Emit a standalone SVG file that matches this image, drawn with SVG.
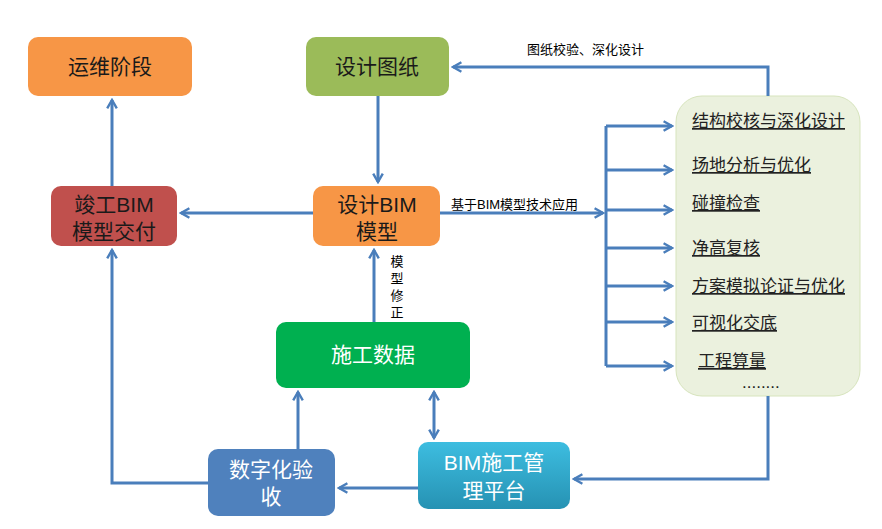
<svg xmlns="http://www.w3.org/2000/svg" width="882" height="529" viewBox="0 0 882 529">
<defs>
<style>
.c{fill:none;stroke:#4A7EBB;stroke-width:3}
.t{font-family:"Liberation Sans","Noto Sans CJK SC",sans-serif}
.n{font-size:21px;text-anchor:middle}
.l{font-size:17px;fill:#222;text-decoration:underline}
.s{font-size:13px;fill:#000}
</style>
<marker id="a" viewBox="0 0 10 10" refX="8" refY="5" markerWidth="4" markerHeight="4" orient="auto-start-reverse" markerUnits="strokeWidth"><path d="M1,1 L8,5 L1,9" fill="none" stroke="#4A7EBB" stroke-width="2"/></marker>
<linearGradient id="g" x1="0" y1="0" x2="0" y2="1"><stop offset="0" stop-color="#3DBDE0"/><stop offset="1" stop-color="#2692B3"/></linearGradient>
</defs>
<rect width="882" height="529" fill="#fff"/>
<g id="panel"><rect x="676" y="96" width="184" height="300" rx="26" fill="#EBF1DE" stroke="#D7E4BD"/>
<g class="t l">
<text x="692" y="127">结构校核与深化设计</text>
<text x="692" y="171">场地分析与优化</text>
<text x="692" y="209">碰撞检查</text>
<text x="692" y="254">净高复核</text>
<text x="692" y="292">方案模拟论证与优化</text>
<text x="692" y="329">可视化交底</text>
<text x="698" y="367">工程算量</text>
</g>
<text class="t" x="742" y="388" font-size="17" fill="#222">........</text></g>
<g id="connectors">
<path class="c" d="M378,96 V182" marker-end="url(#a)"/>
<path class="c" d="M313,213 H181" marker-end="url(#a)"/>
<path class="c" d="M112,186 V100" marker-end="url(#a)"/>
<path class="c" d="M374,322 V250" marker-end="url(#a)"/>
<path class="c" d="M440,213 H603" marker-end="url(#a)"/>
<path class="c" d="M606,126 V366"/>
<path class="c" d="M606,126 H672" marker-end="url(#a)"/>
<path class="c" d="M606,170 H672" marker-end="url(#a)"/>
<path class="c" d="M606,210 H672" marker-end="url(#a)"/>
<path class="c" d="M606,248 H672" marker-end="url(#a)"/>
<path class="c" d="M606,286 H672" marker-end="url(#a)"/>
<path class="c" d="M606,322 H672" marker-end="url(#a)"/>
<path class="c" d="M606,366 H672" marker-end="url(#a)"/>
<path class="c" d="M768,96 V67 H453" marker-end="url(#a)"/>
<path class="c" d="M768,396 V479 H574" marker-end="url(#a)"/>
<path class="c" d="M434,392 V438" marker-start="url(#a)" marker-end="url(#a)"/>
<path class="c" d="M418,488 H339" marker-end="url(#a)"/>
<path class="c" d="M298,449 V392" marker-end="url(#a)"/>
<path class="c" d="M208,483 H112 V250" marker-end="url(#a)"/>
<text class="t s" x="527" y="54">图纸校验、深化设计</text>
<text class="t s" x="451" y="209">基于BIM模型技术应用</text>
<g class="t s" text-anchor="middle"><text x="397" y="266">模</text><text x="397" y="283">型</text><text x="397" y="300">修</text><text x="397" y="317">正</text></g>
</g>
<g id="yunwei"><rect x="28" y="37" width="164" height="59" rx="10" fill="#F79646"/><text class="t n" x="110" y="74" fill="#1a1a1a">运维阶段</text></g>
<g id="tuzhi"><rect x="306" y="37" width="143" height="59" rx="10" fill="#9BBB59"/><text class="t n" x="377" y="74" fill="#1a1a1a">设计图纸</text></g>
<g id="jungong"><rect x="51" y="186" width="126" height="60" rx="10" fill="#C0504D"/><text class="t n" x="114" y="212" fill="#1a1a1a">竣工BIM</text><text class="t n" x="114" y="239" fill="#1a1a1a">模型交付</text></g>
<g id="sheji"><rect x="313" y="186" width="127" height="60" rx="10" fill="#F79646"/><text class="t n" x="377" y="212" fill="#1a1a1a">设计BIM</text><text class="t n" x="377" y="239" fill="#1a1a1a">模型</text></g>
<g id="shigong"><rect x="276" y="322" width="194" height="66" rx="10" fill="#00B050"/><text class="t n" x="373" y="362" fill="#fff">施工数据</text></g>
<g id="yanshou"><rect x="208" y="449" width="127" height="67" rx="10" fill="#4F81BD"/><text class="t n" x="271" y="477" fill="#fff">数字化验</text><text class="t n" x="271" y="504" fill="#fff">收</text></g>
<g id="pingtai"><rect x="418" y="442" width="152" height="67" rx="10" fill="url(#g)"/><text class="t n" x="494" y="470" fill="#fff">BIM施工管</text><text class="t n" x="494" y="498" fill="#fff">理平台</text></g>
</svg>
